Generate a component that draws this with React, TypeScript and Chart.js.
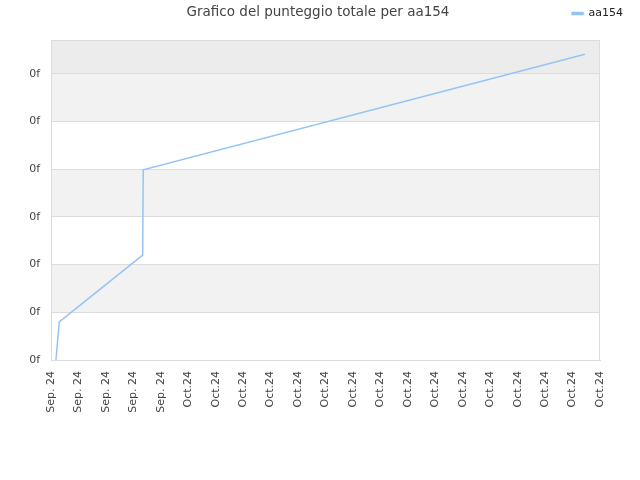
import { useEffect, useRef } from "react"
import { Chart, registerables } from "chart.js"

Chart.register(...registerables)

// x positions are in label-slot units (0 = first tick, 20 = last tick)
const xTickLabels = [
    "Sep. 24", "Sep. 24", "Sep. 24", "Sep. 24", "Sep. 24",
    "Oct.24", "Oct.24", "Oct.24", "Oct.24", "Oct.24", "Oct.24", "Oct.24", "Oct.24",
    "Oct.24", "Oct.24", "Oct.24", "Oct.24", "Oct.24", "Oct.24", "Oct.24", "Oct.24",
]
const pointX = [0.18, 0.3, 3.34, 3.36, 19.45]
const pointY = [0, 0.8, 2.2, 3.99, 6.41]
const yMax = 6.71
const yTickLabel = "0f"

const seriesName = "aa154"
const titleText = "Grafico del punteggio totale per aa154"
const lineColor = "#94c4f4"

// alternating background bands, bottom band first
const bandColors = ["#ffffff", "#f2f2f2", "#ffffff", "#f2f2f2", "#ffffff", "#f2f2f2", "#ececec"]

const bandsPlugin = {
    id: "bands",
    beforeDraw(chart: any) {
        const { ctx, chartArea, scales } = chart
        const y = scales.y
        ctx.save()
        for (let i = 0; i < bandColors.length; i++) {
            const top = y.getPixelForValue(Math.min(i + 1, yMax))
            const bottom = y.getPixelForValue(i)
            ctx.fillStyle = bandColors[i]
            ctx.fillRect(chartArea.left, top, chartArea.right - chartArea.left, bottom - top)
        }
        ctx.restore()
    },
    afterDraw(chart: any) {
        const { ctx, chartArea } = chart
        ctx.save()
        ctx.strokeStyle = "#dcdcdc"
        ctx.lineWidth = 1
        ctx.strokeRect(chartArea.left + 0.5, chartArea.top + 0.5, chartArea.right - chartArea.left - 1, chartArea.bottom - chartArea.top)
        // title sits on the same row as the legend
        ctx.fillStyle = "#444444"
        ctx.font = "13.5px 'DejaVu Sans', sans-serif"
        ctx.textAlign = "center"
        ctx.textBaseline = "middle"
        ctx.fillText(titleText, 318, 12)
        ctx.restore()
    },
}

const tickFont = { family: "'DejaVu Sans', sans-serif", size: 11 }

export default function App() {
    const chartRef = useRef<HTMLCanvasElement>(null)
    const chartInstance = useRef<Chart | null>(null)

    useEffect(() => {
        if (!chartRef.current) return
        if (chartInstance.current) chartInstance.current.destroy()

        const ctx = chartRef.current.getContext("2d")
        if (!ctx) return

        chartInstance.current = new Chart(ctx, {
            type: "line",
            data: {
                datasets: [
                    {
                        label: seriesName,
                        data: pointX.map((x, i) => ({ x, y: pointY[i] })),
                        borderColor: lineColor,
                        backgroundColor: lineColor,
                        borderWidth: 1.5,
                        pointRadius: 0,
                        tension: 0,
                        fill: false,
                    },
                ],
            },
            options: {
                animation: false,
                responsive: false,
                maintainAspectRatio: false,
                layout: { padding: { top: 0, right: 9, bottom: 0, left: 0 } },
                plugins: {
                    title: { display: false },
                    // empty spacer between legend row and plot
                    subtitle: {
                        display: true,
                        text: "",
                        weight: 500,
                        font: { size: 1, lineHeight: 1 },
                        padding: { top: 0, bottom: 10 },
                    } as any,
                    tooltip: { enabled: false },
                    legend: {
                        position: "top",
                        align: "end",
                        labels: {
                            boxWidth: 11,
                            boxHeight: 2,
                            padding: 8,
                            color: "#222222",
                            font: tickFont,
                        },
                    },
                },
                scales: {
                    x: {
                        type: "linear",
                        min: 0,
                        max: xTickLabels.length - 1,
                        afterFit: (scale: any) => {
                            scale.height = 120
                        },
                        ticks: {
                            stepSize: 1,
                            autoSkip: false,
                            maxRotation: 90,
                            minRotation: 90,
                            color: "#444444",
                            font: tickFont,
                            callback: (v: any) => xTickLabels[Math.round(Number(v))] ?? "",
                        },
                        grid: { display: false },
                        border: { color: "#dcdcdc" },
                    },
                    y: {
                        min: 0,
                        max: yMax,
                        afterFit: (scale: any) => {
                            scale.width = 51
                        },
                        afterBuildTicks: (scale: any) => {
                            scale.ticks = scale.ticks.filter((t: any) => Number.isInteger(t.value))
                        },
                        ticks: {
                            stepSize: 1,
                            color: "#444444",
                            padding: 11,
                            font: tickFont,
                            callback: () => yTickLabel,
                        },
                        grid: { color: "#dcdcdc", drawTicks: false },
                        border: { color: "#dcdcdc" },
                    },
                    // blank strip on the right so the legend can reach past the plot edge
                    yRight: {
                        position: "right",
                        display: true,
                        afterFit: (scale: any) => {
                            scale.width = 31
                        },
                        ticks: { display: false },
                        grid: { display: false },
                        border: { display: false },
                    },
                },
            },
            plugins: [bandsPlugin],
        })

        return () => {
            if (chartInstance.current) {
                chartInstance.current.destroy()
                chartInstance.current = null
            }
        }
    }, [])

    return (
        <div style={{ position: "absolute", left: 0, top: 0, width: 640, height: 480, background: "#fff" }}>
            <canvas ref={chartRef} width={640} height={480} style={{ width: 640, height: 480 }} />
        </div>
    )
}
